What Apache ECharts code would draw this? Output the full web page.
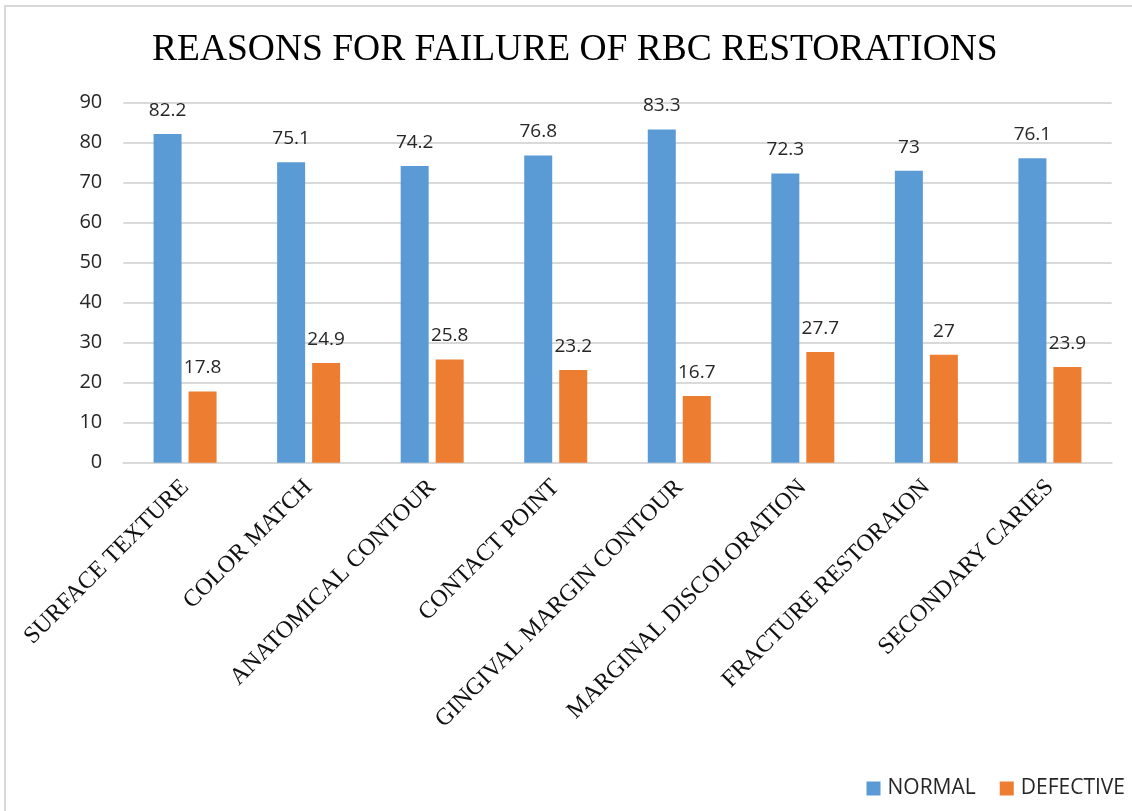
<!DOCTYPE html>
<html>
<head>
<meta charset="utf-8">
<script src="https://cdn.jsdelivr.net/npm/echarts@6/dist/echarts.min.js"></script>
<style>html,body{margin:0;padding:0;background:#fff}#c{width:1132px;height:811px}</style>
</head>
<body>
<div id="c"></div>
<script>
const titleText = 'REASONS FOR FAILURE OF RBC RESTORATIONS';
const categories = ['SURFACE TEXTURE','COLOR MATCH','ANATOMICAL CONTOUR','CONTACT POINT','GINGIVAL MARGIN CONTOUR','MARGINAL DISCOLORATION','FRACTURE RESTORAION','SECONDARY CARIES'];
const normalValues = [82.2, 75.1, 74.2, 76.8, 83.3, 72.3, 73, 76.1];
const defectiveValues = [17.8, 24.9, 25.8, 23.2, 16.7, 27.7, 27, 23.9];
const seriesNames = ['NORMAL', 'DEFECTIVE'];

const chart = echarts.init(document.getElementById('c'), null, {renderer: 'canvas'});
const sans = '"Open Sans", "Noto Sans", sans-serif';
const serif = '"Liberation Serif", "DejaVu Serif", serif';
chart.setOption({
  animation: false,
  backgroundColor: '#fff',
  graphic: [{
    type: 'rect', silent: true, z: -10,
    shape: {x: 5, y: 6, width: 1200, height: 900},
    style: {fill: 'none', stroke: '#d9d9d9', lineWidth: 2}
  }],
  title: {
    text: titleText,
    left: 152, top: 31, padding: 0,
    textStyle: {fontFamily: serif, fontSize: 37.5, fontWeight: 'normal', color: '#000'}
  },
  legend: {
    data: seriesNames,
    right: 7, top: 778, padding: 0,
    itemWidth: 14, itemHeight: 14, itemGap: 24,
    icon: 'rect',
    textStyle: {fontFamily: sans, fontSize: 21, color: '#262626', padding: [0, 0, 0, 2]}
  },
  grid: {left: 123.3, right: 20.3, top: 102.7, bottom: 348.3, containLabel: false},
  xAxis: {
    type: 'category',
    data: categories,
    axisLine: {lineStyle: {color: '#d9d9d9', width: 2}},
    axisTick: {show: false},
    axisLabel: {
      interval: 0, rotate: 45, margin: 21,
      fontFamily: serif, fontSize: 24, color: '#111'
    }
  },
  yAxis: {
    type: 'value', min: 0, max: 90, interval: 10,
    axisLine: {show: false}, axisTick: {show: false},
    splitLine: {lineStyle: {color: '#d9d9d9', width: 2}},
    axisLabel: {fontFamily: sans, fontSize: 20, color: '#262626', margin: 21}
  },
  series: [{
    name: seriesNames[0], type: 'bar', data: normalValues,
    barWidth: 28, barGap: '25%',
    itemStyle: {color: '#5B9BD5'},
    label: {show: true, position: 'top', distance: 14, fontFamily: sans, fontSize: 19, color: '#262626'}
  }, {
    name: seriesNames[1], type: 'bar', data: defectiveValues,
    barWidth: 28, barGap: '25%',
    itemStyle: {color: '#ED7D31'},
    label: {show: true, position: 'top', distance: 14, fontFamily: sans, fontSize: 19, color: '#262626'}
  }]
});
</script>
</body>
</html>
